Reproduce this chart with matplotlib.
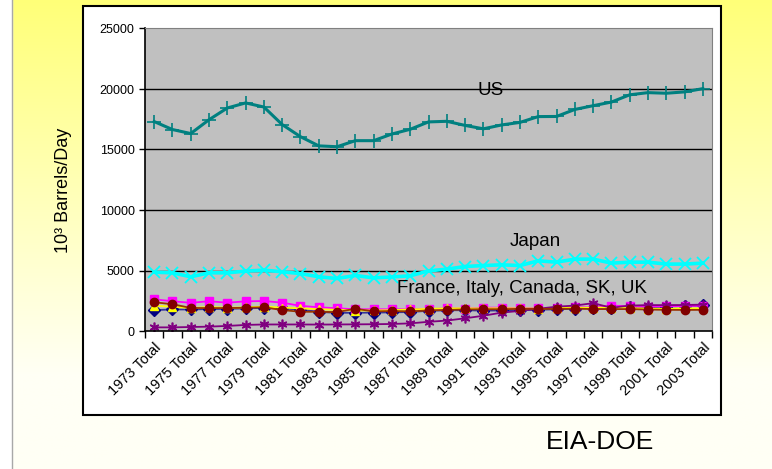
"""Oil consumption 1973-2003: US, Japan and five other countries (EIA-DOE)."""
import matplotlib
matplotlib.use("Agg")
import matplotlib.pyplot as plt
import numpy as np
from matplotlib.patches import Rectangle
from matplotlib.lines import Line2D

plt.rcParams["font.family"] = ["Liberation Sans", "DejaVu Sans"]

YEARS = list(range(1973, 2004))
LABELS = [f"{y} Total" for y in YEARS]

US = [17310, 16650, 16320, 17460, 18430, 18850, 18510, 17060, 16060, 15300,
      15230, 15730, 15730, 16280, 16670, 17280, 17330, 16990, 16710, 17030,
      17240, 17720, 17730, 18310, 18620, 18920, 19520, 19700, 19650, 19760,
      20030]
JAPAN = [4860, 4810, 4480, 4810, 4810, 4950, 5030, 4890, 4750, 4480,
         4340, 4590, 4390, 4470, 4560, 4970, 5110, 5330, 5410, 5470,
         5410, 5800, 5690, 5940, 5940, 5610, 5690, 5690, 5530, 5530,
         5610]
CANADA = [1730, 1780, 1780, 1810, 1830, 1870, 1910, 1870, 1770, 1580,
          1500, 1510, 1520, 1540, 1570, 1670, 1710, 1720, 1680, 1700,
          1720, 1760, 1790, 1840, 1890, 1900, 1950, 1940, 2020, 2060,
          2110]
FRANCE = [2620, 2460, 2330, 2460, 2340, 2450, 2480, 2340, 2080, 1960,
          1880, 1790, 1800, 1790, 1800, 1800, 1870, 1840, 1930, 1930,
          1880, 1870, 1920, 1960, 1960, 2100, 2040, 2010, 2060, 2060,
          2100]
ITALY = [2090, 2010, 1900, 1980, 1920, 1950, 2020, 1930, 1870, 1800,
         1750, 1690, 1700, 1720, 1780, 1830, 1870, 1870, 1870, 1880,
         1870, 1850, 1940, 1920, 1930, 1940, 1890, 1850, 1830, 1870,
         1870]
SK = [300, 300, 330, 360, 420, 500, 540, 540, 540, 530,
      540, 550, 560, 580, 630, 760, 860, 1050, 1260, 1520,
      1660, 1840, 2010, 2100, 2300, 1920, 2100, 2140, 2140, 2150,
      2180]
UK = [2380, 2210, 1910, 1890, 1900, 1920, 1960, 1730, 1590, 1590,
      1560, 1840, 1620, 1650, 1620, 1700, 1740, 1780, 1800, 1800,
      1830, 1830, 1820, 1850, 1810, 1810, 1810, 1770, 1750, 1740,
      1750]

W, H = 772, 469
fig = plt.figure(figsize=(W / 100, H / 100), dpi=100)

# yellow-to-white background, white strip at the far left
bg = fig.add_axes([0, 0, 1, 1], zorder=-10)
t = np.linspace(0, 1, 256)[:, None]
blue = 120 + 125 * np.clip(t / 0.8, 0, 1)
grad = np.dstack([np.ones_like(blue), np.ones_like(blue), blue / 255])
bg.imshow(np.repeat(grad, 2, axis=1), aspect="auto",
          extent=[13 / W, 1, 0, 1])
bg.add_patch(Rectangle((0, 0), 12.5 / W, 1, color="white"))
bg.add_line(Line2D([12.5 / W, 12.5 / W], [0, 1], color="#a8a8a8", lw=1))
bg.set_xlim(0, 1)
bg.set_ylim(0, 1)
bg.axis("off")

# white chart box
fig.patches.append(Rectangle((83 / W, 1 - 415 / H), 638 / W, 409 / H,
                             transform=fig.transFigure, facecolor="white",
                             edgecolor="black", lw=1.5, zorder=-5))

ax = fig.add_axes([145 / W, 1 - 331 / H, 567 / W, 302.5 / H])
ax.set_facecolor("#c0c0c0")
x = np.arange(len(YEARS))

small = dict(lw=1.3, ms=6)
ax.plot(x, CANADA, color="#333399", marker="D", mfc="#000080",
        mec="#000080", **small)
ax.plot(x, FRANCE, color="#ff00ff", marker="s", mfc="#ff00ff",
        mec="#ff00ff", **small)
ax.plot(x, ITALY, color="#ffff00", marker="^", mfc="#ffff00",
        mec="#ffff00", **small)
ax.plot(x, SK, color="#800080", marker=(6, 2, 0), mfc="#800080",
        mec="#800080", lw=1.3, ms=7, mew=1.2)
ax.plot(x, UK, color="#993300", marker="o", mfc="#800000",
        mec="#800000", **small)
ax.plot(x, JAPAN, color="#00ffff", lw=2.6, marker="x", ms=8, mew=1.3)
ax.plot(x, US, color="#008080", lw=2.2, marker="+", ms=10, mew=1.2)

ax.set_xlim(-0.5, len(YEARS) - 0.5)
ax.set_ylim(0, 25000)
ax.set_yticks(range(0, 25001, 5000))
ax.tick_params(axis="y", labelsize=9, length=4, width=1, direction="out")
for v in range(5000, 25000, 5000):
    ax.axhline(v, color="black", lw=1, zorder=0.5)

ax.set_xticks(x[::2])
ax.set_xticklabels(LABELS[::2], rotation=45, ha="right", va="top",
                   rotation_mode="anchor", fontsize=10.5)
ax.set_xticks(np.arange(-0.5, len(YEARS)), minor=True)
ax.tick_params(axis="x", which="major", length=0, pad=7)
ax.tick_params(axis="x", which="minor", length=5, width=1)

for s in ("top", "right"):
    ax.spines[s].set_color("#808080")
for s in ("left", "bottom"):
    ax.spines[s].set_color("black")
    ax.spines[s].set_linewidth(1.2)

ax.text(18.4, 19860, "US", fontsize=13.5, ha="center", va="center")
ax.text(20.85, 7400, "Japan", fontsize=13.5, ha="center", va="center")
ax.text(13.3, 3520, "France, Italy, Canada, SK, UK", fontsize=13.5,
        ha="left", va="center")

fig.text(63 / W, 1 - 190 / H, "10³ Barrels/Day", rotation=90,
         fontsize=13, ha="center", va="center")
fig.text(600 / W, 1 - 442 / H, "EIA-DOE", fontsize=19,
         ha="center", va="center")

fig.savefig("out.png", dpi=100)
